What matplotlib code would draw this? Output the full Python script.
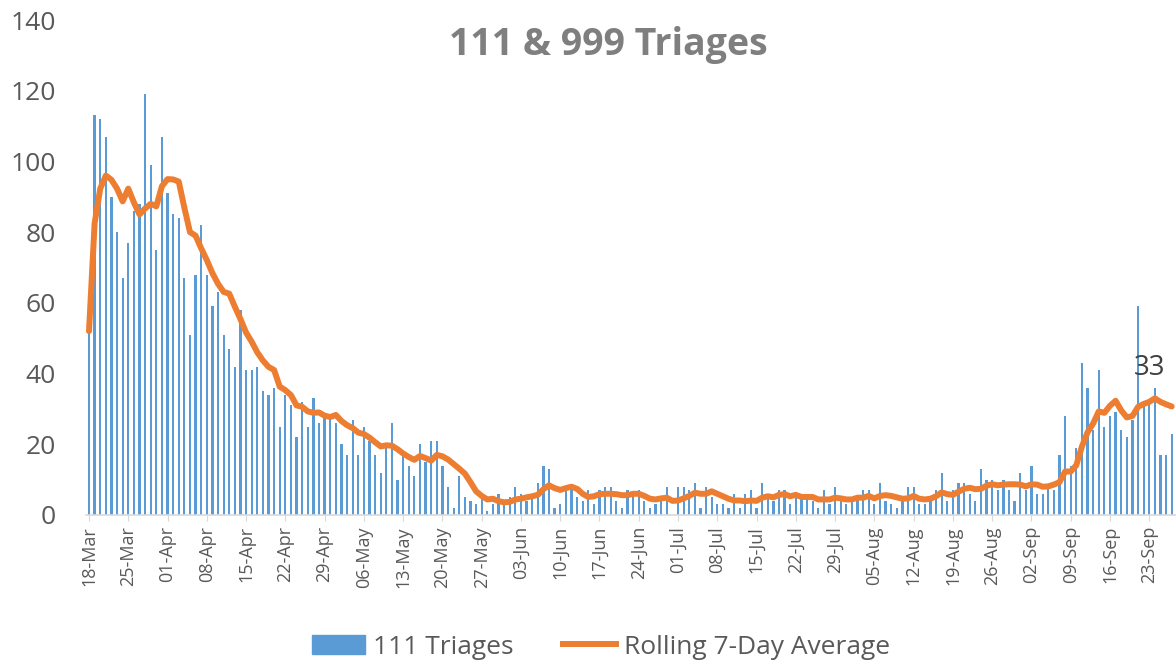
import numpy as np
import matplotlib
matplotlib.use("Agg")
import matplotlib.pyplot as plt
from matplotlib.patches import Patch
from matplotlib.lines import Line2D

triages = [52,113,112,107,90,80,67,77,86,88,119,99,75,107,91,85,84,67,51,68,82,68,59,63,51,47,42,58,41,41,42,35,34,36,25,
           34,31,22,32,25,33,26,28,28,26,20,17,27,17,25,21,17,12,19,26,10,17,14,11,20,15,21,21,14,8,2,11,5,4,
           3,5,1,3,6,3,5,8,6,4,5,9,14,13,2,3,7,8,5,4,7,3,7,8,8,4,2,7,6,7,4,2,3,
           4,8,0,8,8,7,9,2,8,5,3,3,2,6,2,6,7,2,9,5,4,7,7,3,5,5,5,4,2,7,3,8,
           4,3,4,5,7,7,3,9,4,3,2,4,8,8,3,3,4,7,12,4,7,9,9,6,4,13,10,10,7,10,7,4,12,
           7,14,6,6,8,7,17,28,14,19,43,36,24,41,25,28,29,24,22,27,59,31,32,36,17,17,23]

rolling_avg = [52.0, 82.5, 92.3, 96.0, 94.8, 92.3, 88.7, 92.3, 88.4, 85.0, 86.7, 88.0, 87.3, 93.0, 95.0, 94.9, 94.3,
               86.9, 80.0, 79.0, 75.4, 72.1, 68.4, 65.4, 63.1, 62.6, 58.9, 55.4, 51.6, 49.0, 46.0, 43.7, 41.9, 41.0,
               36.3, 35.3, 33.9, 31.0, 30.6, 29.3, 28.9, 29.0, 28.1, 27.7, 28.3, 26.6, 25.4, 24.6, 23.3, 22.9, 21.9,
               20.6, 19.4, 19.7, 19.6, 18.6, 17.4, 16.4, 15.6, 16.7, 16.1, 15.4, 17.0, 16.6, 15.7, 14.4, 13.1, 11.7,
               9.3, 6.7, 5.4, 4.4, 4.6, 3.9, 3.6, 3.7, 4.4, 4.6, 5.0, 5.3, 5.7, 7.3, 8.4, 7.6, 7.1, 7.6, 8.0, 7.4,
               6.0, 5.1, 5.3, 5.9, 6.0, 6.0, 5.9, 5.6, 5.6, 6.0, 6.0, 5.4, 4.6, 4.4, 4.7, 4.9, 4.0, 4.1, 4.7, 5.4,
               6.3, 6.0, 6.0, 6.7, 6.0, 5.3, 4.6, 4.1, 4.1, 3.9, 4.1, 4.0, 4.9, 5.3, 5.0, 5.7, 5.9, 5.3, 5.7, 5.1,
               5.1, 5.1, 4.4, 4.4, 4.4, 4.9, 4.7, 4.4, 4.4, 4.9, 4.9, 5.4, 4.7, 5.4, 5.6, 5.4, 5.0, 4.6, 4.7, 5.4,
               4.6, 4.4, 4.6, 5.3, 6.4, 5.9, 5.7, 6.6, 7.4, 7.7, 7.3, 7.4, 8.3, 8.7, 8.4, 8.6, 8.7, 8.7, 8.6, 8.1,
               8.7, 8.6, 8.0, 8.1, 8.6, 9.3, 12.3, 12.3, 14.1, 19.4, 23.4, 25.9, 29.3, 28.9, 30.9, 32.3, 29.6, 27.6,
               28.0, 30.6, 31.4, 32.0, 33.0, 32.0, 31.3, 30.7]

tick_labels = ['18-Mar','25-Mar','01-Apr','08-Apr','15-Apr','22-Apr','29-Apr','06-May','13-May','20-May',
               '27-May','03-Jun','10-Jun','17-Jun','24-Jun','01-Jul','08-Jul','15-Jul','22-Jul','29-Jul',
               '05-Aug','12-Aug','19-Aug','26-Aug','02-Sep','09-Sep','16-Sep','23-Sep']

label_day = 190

plt.rcParams['font.family'] = ['Open Sans', 'DejaVu Sans']
fig = plt.figure(figsize=(11.76, 6.63), dpi=100)
ax = fig.add_axes([86.2/1176, 1-515/663, (1174.5-86.2)/1176, (515-20)/663])
x = np.arange(len(triages))
ax.bar(x, triages, width=0.4, color='#5B9BD5', zorder=2)
ax.plot(x, rolling_avg, color='#ED7D31', lw=4.3, solid_joinstyle='round', solid_capstyle='round', zorder=3)
ax.set_xlim(-0.5, len(triages)-0.5)
ax.set_ylim(0, 140)
ax.set_yticks(range(0, 141, 20))
ax.set_xticks(np.arange(0, len(triages), 7)[:len(tick_labels)])
ax.set_xticklabels(tick_labels, rotation=90)
ax.tick_params(axis='y', length=0, labelsize=19, labelcolor='#595959', pad=22)
ax.tick_params(axis='x', length=4, color='#D9D9D9', labelsize=13, labelcolor='#595959', pad=4)
for s in ['top', 'right', 'left']:
    ax.spines[s].set_visible(False)
ax.spines['bottom'].set_color('#D9D9D9')
ax.spines['bottom'].set_linewidth(1.2)
ax.annotate(f"{rolling_avg[label_day]:.0f}", (label_day, rolling_avg[label_day]), xytext=(-4, 12),
            textcoords='offset points', ha='center', va='bottom', fontsize=20, color='#404040')
fig.text(608/1176, 1-45/663, '111 & 999 Triages', ha='center', va='center', fontsize=27,
         fontweight='bold', color='#7F7F7F')
handles = [Patch(color='#5B9BD5'), Line2D([0], [0], color='#ED7D31', lw=4.3)]
fig.legend(handles, ['111 Triages', 'Rolling 7-Day Average'], loc='center', bbox_to_anchor=(601/1176, 1-647/663),
           ncol=2, frameon=False, fontsize=19, labelcolor='#595959', handlelength=2.0, handletextpad=0.3,
           columnspacing=1.9)
fig.savefig('out.png', dpi=100)
